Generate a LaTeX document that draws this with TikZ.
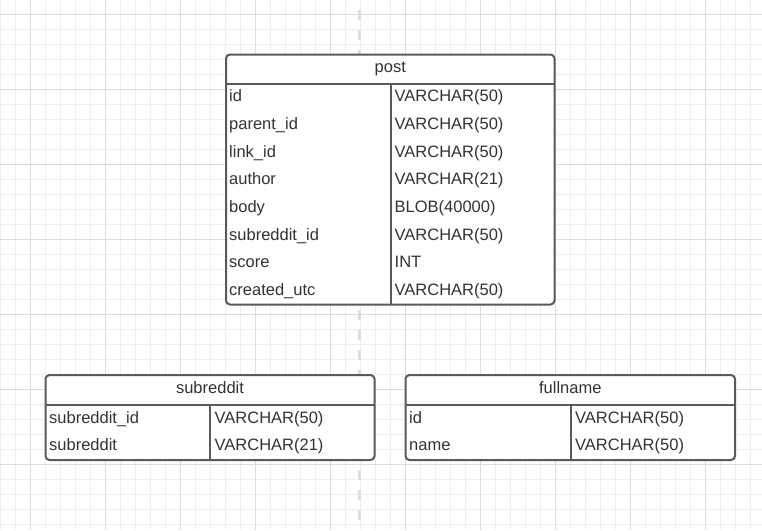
\documentclass[tikz,border=0pt]{standalone}
\usepackage{fontspec}
\setmainfont{Liberation Sans}
\definecolor{minorline}{HTML}{EEEEEE}
\definecolor{majorline}{HTML}{DDDDDD}
\definecolor{frameline}{HTML}{5A5A5A}
\definecolor{ink}{HTML}{333333}
\begin{document}
\begin{tikzpicture}[x=1pt,y=-1pt,
minor/.style={draw=minorline,line width=1pt},
major/.style={draw=majorline,line width=1pt},
divline/.style={draw=majorline,line width=3pt,dash pattern=on 10pt off 10pt},
entity/.style={draw=frameline,line width=2pt,rounded corners=4pt,fill=white,inner sep=0pt,outer sep=0pt,anchor=north west},
rule/.style={draw=frameline,line width=2pt},
title/.style={anchor=base,inner sep=0pt,text=ink,font=\fontsize{16.5}{19}\selectfont},
field/.style={anchor=base west,inner sep=0pt,text=ink,font=\fontsize{16.5}{19}\selectfont},
]
\useasboundingbox[fill=white](0,0)rectangle(762,530);

%grid
\foreach \x in {0.5,15.5,...,750.5} \draw[minor](\x,0)--(\x,530);
\foreach \y in {14.5,29.5,...,524.5} \draw[minor](0,\y)--(762,\y);
\foreach \x in {30.5,105.5,...,705.5} \draw[major](\x,0)--(\x,530);
\foreach \y in {14.5,89.5,...,464.5} \draw[major](0,\y)--(762,\y);

%page break line
\draw[divline](359,10)--(359,520);

%post
\node[entity,minimum width=328.5,minimum height=250](post)at(226,54.5){};
\draw[rule](226,84)--(554.5,84);
\draw[rule](390.5,84)--(390.5,304.5);
\node[title](post-t)at(390.25,72.5){post};
\node[field](post-id)at(229,101.7){id};
\node[field](post-id-ty)at(394.5,101.7){VARCHAR(50)};
\node[field](post-parent)at(229,129.4){parent\_id};
\node[field](post-parent-ty)at(394.5,129.4){VARCHAR(50)};
\node[field](post-link)at(229,157.1){link\_id};
\node[field](post-link-ty)at(394.5,157.1){VARCHAR(50)};
\node[field](post-author)at(229,184.8){author};
\node[field](post-author-ty)at(394.5,184.8){VARCHAR(21)};
\node[field](post-body)at(229,212.5){body};
\node[field](post-body-ty)at(394.5,212.5){BLOB(40000)};
\node[field](post-sub)at(229,240.2){subreddit\_id};
\node[field](post-sub-ty)at(394.5,240.2){VARCHAR(50)};
\node[field](post-score)at(229,267.9){score};
\node[field](post-score-ty)at(394.5,267.9){INT};
\node[field](post-created)at(229,295.6){created\_utc};
\node[field](post-created-ty)at(394.5,295.6){VARCHAR(50)};

%subreddit
\node[entity,minimum width=329,minimum height=85](subreddit)at(45.5,375){};
\draw[rule](45.5,404.5)--(374.5,404.5);
\draw[rule](210,404.5)--(210,460);
\node[title](subreddit-t)at(210,393.3){subreddit};
\node[field](subreddit-id)at(49,423){subreddit\_id};
\node[field](subreddit-id-ty)at(214.5,423){VARCHAR(50)};
\node[field](subreddit-name)at(49,450.7){subreddit};
\node[field](subreddit-name-ty)at(214.5,450.7){VARCHAR(21)};

%fullname
\node[entity,minimum width=329.5,minimum height=85](fullname)at(405.5,375){};
\draw[rule](405.5,404.5)--(735,404.5);
\draw[rule](570.5,404.5)--(570.5,460);
\node[title](fullname-t)at(570.25,393.3){fullname};
\node[field](fullname-id)at(409,423){id};
\node[field](fullname-id-ty)at(575,423){VARCHAR(50)};
\node[field](fullname-name)at(409,450.7){name};
\node[field](fullname-name-ty)at(575,450.7){VARCHAR(50)};

\end{tikzpicture}
\end{document}
